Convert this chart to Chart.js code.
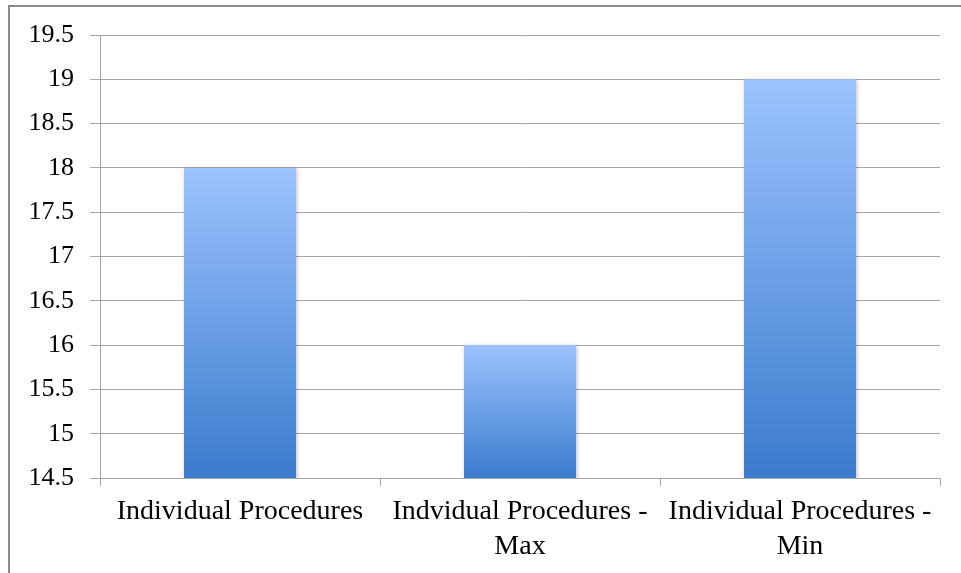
<!DOCTYPE html>
<html><head><meta charset="utf-8">
<script src="https://cdn.jsdelivr.net/npm/chart.js@4/dist/chart.umd.min.js"></script>
<style>
html,body{margin:0;padding:0;background:#fff;overflow:hidden;}
#wrap{position:absolute;left:0;top:0;width:961px;height:573px;}
#frame{position:absolute;left:8px;top:5px;width:1000px;height:700px;border:2px solid #8a8a8a;box-sizing:border-box;pointer-events:none;}
</style></head>
<body>
<div id="wrap"><canvas id="c" width="961" height="573"></canvas></div>
<div id="frame"></div>
<script>
const categories = [["Individual Procedures"], ["Indvidual Procedures -", "Max"], ["Individual Procedures -", "Min"]];
const values = [18, 16, 19];
const yMin = 14.5, yMax = 19.5, yStep = 0.5;

const YFONT = {family: "'Liberation Serif', serif", size: 26, lineHeight: 1.3};
const XFONT = {family: "'Liberation Serif', serif", size: 28, lineHeight: 1.25};

function barGradient(ctx) {
  const chart = ctx.chart;
  const ys = chart.scales && chart.scales.y;
  if (!ys || ctx.dataIndex === undefined) return '#6d9fe6';
  const top = ys.getPixelForValue(values[ctx.dataIndex]);
  const bot = ys.getPixelForValue(yMin);
  if (!isFinite(top) || !isFinite(bot) || top === bot) return '#6d9fe6';
  const g = chart.ctx.createLinearGradient(0, top, 0, bot);
  g.addColorStop(0, '#9dc3ff');
  g.addColorStop(0.5, '#6b9fe6');
  g.addColorStop(1, '#3b7bcd');
  return g;
}

const shadowPlugin = {
  id: 'shadow',
  beforeDatasetsDraw(chart) { const c = chart.ctx; c.save(); c.shadowColor = 'rgba(0,0,0,0.25)'; c.shadowBlur = 4; c.shadowOffsetX = 1; c.shadowOffsetY = 1; },
  afterDatasetsDraw(chart) { chart.ctx.restore(); }
};

new Chart(document.getElementById('c'), {
  type: 'bar',
  data: {
    labels: categories,
    datasets: [{ data: values, backgroundColor: barGradient, borderWidth: 0, categoryPercentage: 1, barPercentage: 0.4 }]
  },
  options: {
    responsive: false,
    animation: false,
    devicePixelRatio: 1,
    layout: { padding: { left: 0, top: 35, right: 21, bottom: 0 } },
    plugins: { legend: { display: false }, tooltip: { enabled: false } },
    scales: {
      x: {
        offset: true,
        grid: { offset: true, drawOnChartArea: false, color: '#a6a6a6', tickLength: 8 },
        border: { color: '#a6a6a6', width: 1 },
        ticks: { color: '#000', font: XFONT, maxRotation: 0, autoSkip: false, padding: 8 },
        afterFit(s) { s.height = 95; }
      },
      y: {
        min: yMin, max: yMax,
        grid: { color: '#a6a6a6', tickLength: 10 },
        border: { color: '#a6a6a6', width: 1 },
        ticks: { stepSize: yStep, color: '#000', font: YFONT, padding: 16,
          callback: (v) => String(Math.round(v * 10) / 10) },
        afterFit(s) { s.width = 100; }
      }
    }
  },
  plugins: [shadowPlugin]
});
</script>
</body></html>
